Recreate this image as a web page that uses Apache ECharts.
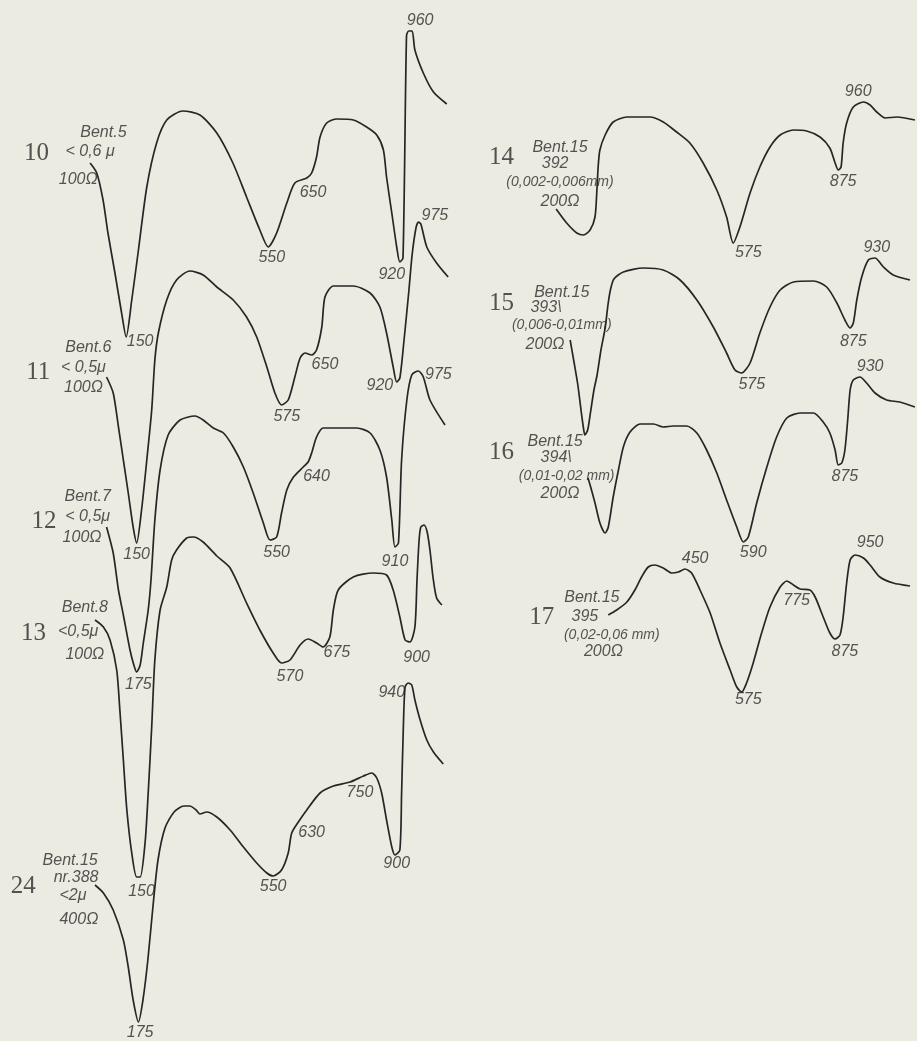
<!DOCTYPE html>
<html>
<head>
<meta charset="utf-8">
<script src="https://cdn.jsdelivr.net/npm/echarts@6/dist/echarts.min.js"></script>
<style>
html,body{margin:0;padding:0;background:#ecebe1;}
#c{width:917px;height:1041px;}
</style>
</head>
<body>
<div id="c"></div>
<script>
// DTA curves: [temperature °C, deflection (arbitrary units, curves offset)]
const curve10 = [[46,87.8],[65,86.8],[83,84.1],[97,80.8],[117,76.8],[136,72.8],[149,70.4],[165,74.1],[183,78.8],[208,85.4],[236,89.8],[265,92.1],[311,93.0],[360,92.6],[408,90.8],[454,87.8],[493,84.4],[531,81.1],[555,79.4],[579,80.8],[608,83.8],[631,85.8],[665,86.3],[679,86.8],[693,88.4],[703,90.4],[722,91.8],[751,92.2],[798,92.1],[836,91.4],[865,90.6],[884,89.1],[893,86.4],[908,82.8],[922,79.4],[931,77.9],[940,78.3],[950,100.5],[956,101.0],[966,101.0],[974,99.1],[998,96.8],[1027,94.9],[1065,93.7]];
const curve11 = [[93,66.4],[112,64.8],[127,61.4],[141,58.1],[155,54.8],[169,51.4],[179,49.8],[193,53.1],[208,58.1],[222,63.1],[231,68.1],[241,70.8],[265,74.1],[293,76.1],[331,77.0],[369,76.6],[408,75.4],[455,74.1],[493,72.4],[522,70.4],[551,67.4],[574,64.8],[593,63.6],[612,64.1],[631,66.4],[646,68.3],[660,68.8],[679,68.6],[693,69.1],[708,71.4],[717,74.4],[741,75.5],[798,75.5],[846,74.8],[874,73.4],[893,70.8],[912,67.4],[922,65.9],[931,66.3],[943,70.1],[957,75.1],[966,78.6],[977,81.3],[984,81.9],[991,81.7],[1008,79.4],[1036,77.8],[1069,76.4]];
const curve12 = [[93,51.4],[112,48.8],[127,45.1],[141,42.6],[160,39.1],[171,37.6],[179,36.9],[189,37.6],[198,39.8],[212,43.1],[220,46.1],[231,52.1],[246,57.1],[269,60.6],[303,62.1],[346,62.5],[369,62.1],[398,61.3],[427,60.8],[455,59.4],[484,57.4],[512,54.8],[541,51.8],[560,50.1],[579,50.4],[593,52.8],[608,55.1],[627,56.4],[655,57.4],[669,57.9],[679,58.8],[693,60.4],[712,61.3],[760,61.3],[808,61.3],[846,60.8],[874,59.1],[893,56.4],[908,52.1],[917,49.4],[927,49.8],[936,58.1],[951,64.1],[965,66.6],[984,67.0],[998,66.4],[1017,64.1],[1060,61.6]];
const curve13 = [[60,42.1],[84,41.4],[103,40.1],[122,37.1],[131,33.1],[141,28.1],[151,23.1],[165,18.8],[179,16.4],[189,16.4],[203,19.8],[212,24.8],[222,31.4],[231,38.1],[246,43.1],[265,45.4],[279,48.1],[293,49.1],[322,50.3],[341,50.4],[369,49.9],[408,48.5],[446,47.3],[493,43.8],[531,41.1],[569,38.8],[593,37.8],[617,38.1],[646,39.6],[669,40.2],[693,39.8],[712,39.4],[731,40.4],[741,43.1],[755,45.1],[798,46.4],[855,46.8],[893,46.6],[912,45.1],[931,42.4],[946,40.1],[960,39.9],[974,41.4],[980,46.1],[986,50.1],[991,51.4],[1000,51.6],[1009,50.9],[1017,49.1],[1026,46.3],[1036,44.3],[1051,43.6]];
const curve24 = [[60,15.6],[84,14.8],[112,13.1],[141,10.1],[155,7.4],[169,4.1],[184,1.9],[197,4.1],[211,8.1],[226,13.6],[240,18.1],[260,21.3],[286,22.9],[314,23.5],[331,23.5],[349,23.1],[360,22.7],[379,22.9],[408,22.4],[446,21.1],[484,19.4],[522,17.8],[551,16.8],[569,16.5],[593,17.1],[612,18.8],[622,20.8],[641,21.9],[665,23.1],[703,24.8],[741,25.5],[789,25.9],[827,26.5],[851,26.8],[865,26.3],[879,24.8],[893,22.1],[908,19.4],[917,18.6],[931,19.1],[936,24.8],[941,31.4],[946,35.4],[955,35.8],[965,35.6],[974,34.1],[989,32.1],[1008,30.1],[1027,28.9],[1055,27.7]];
const curve14 = [[69,83.2],[99,81.8],[128,80.8],[147,80.6],[166,81.1],[180,82.4],[185,84.8],[189,87.4],[194,89.1],[209,90.6],[232,91.9],[271,92.4],[337,92.4],[375,91.9],[413,90.9],[451,89.8],[489,87.8],[528,85.1],[556,82.4],[575,79.8],[594,81.4],[623,84.8],[651,87.4],[680,89.4],[709,90.6],[747,91.1],[785,91.0],[823,90.4],[851,89.3],[866,87.8],[875,87.1],[883,87.4],[889,89.8],[899,91.8],[918,93.4],[947,93.9],[966,93.6],[985,92.9],[1009,92.3],[1042,92.4],[1094,92.1]];
const curve15 = [[109,70.1],[120,67.9],[131,65.6],[140,63.1],[147,61.3],[151,60.6],[159,61.1],[166,62.6],[177,65.1],[186,66.6],[197,69.1],[209,71.3],[217,73.6],[224,75.1],[234,76.2],[261,76.9],[318,77.3],[375,77.1],[423,76.1],[471,74.1],[518,71.4],[556,68.8],[580,67.1],[599,66.8],[623,67.8],[651,70.8],[680,73.4],[709,75.1],[747,75.9],[804,76.0],[842,75.4],[871,73.8],[894,72.1],[909,71.3],[918,71.8],[928,74.1],[942,76.4],[961,78.1],[980,78.3],[1004,77.4],[1032,76.6],[1080,76.1]];
const curve16 = [[160,56.3],[166,55.6],[180,53.8],[194,51.8],[209,50.8],[218,51.4],[232,54.4],[247,57.1],[261,59.4],[280,60.9],[309,61.7],[347,61.7],[375,61.4],[404,61.5],[442,61.5],[471,60.8],[499,59.1],[528,56.8],[556,54.1],[585,51.4],[604,49.9],[618,50.4],[642,53.8],[671,57.4],[699,60.4],[728,62.3],[766,62.8],[804,62.8],[832,61.9],[851,60.8],[866,59.1],[875,57.6],[885,57.8],[894,59.1],[902,62.1],[909,65.1],[918,66.1],[937,66.4],[956,65.8],[980,64.8],[1013,64.1],[1051,63.9],[1094,63.4]];
const curve17 = [[218,42.6],[242,43.1],[271,43.9],[294,45.1],[313,46.4],[332,47.4],[351,47.6],[375,47.3],[399,46.8],[418,46.9],[437,47.2],[456,46.8],[480,45.1],[509,42.8],[537,39.8],[566,37.1],[585,35.4],[599,34.9],[613,35.8],[632,37.8],[656,40.8],[680,43.4],[709,45.4],[728,46.0],[747,45.6],[766,45.2],[794,45.1],[809,44.4],[832,42.4],[851,40.8],[866,40.2],[880,40.6],[889,42.4],[899,45.8],[909,48.1],[923,48.6],[947,48.3],[966,47.6],[994,46.4],[1032,45.8],[1080,45.5]];

// Peak / dip temperature labels: [temperature, deflection, text]
const leftPeakLabels = [
  [189,69.9,'150'],[565,78.3,'550'],[683,84.8,'650'],[908,76.6,'920'],[989,102.0,'960'],
  [179,48.6,'150'],[608,62.4,'575'],[717,67.6,'650'],[874,65.5,'920'],[1031,82.5,'975'],
  [184,35.6,'175'],[579,48.8,'550'],[693,56.4,'640'],[917,47.9,'910'],[1041,66.6,'975'],
  [193,14.9,'150'],[617,36.4,'570'],[751,38.8,'675'],[979,38.3,'900'],
  [189,0.8,'175'],[569,15.4,'550'],[679,20.8,'630'],[817,24.8,'750'],[922,17.7,'900'],[908,34.8,'940']
];
const rightPeakLabels = [
  [618,78.8,'575'],[889,85.9,'875'],[932,94.9,'960'],
  [628,65.6,'575'],[918,69.9,'875'],[985,79.3,'930'],
  [632,48.8,'590'],[894,56.4,'875'],[966,67.4,'930'],
  [466,48.2,'450'],[756,44.0,'775'],[894,38.9,'875'],[618,34.1,'575'],[966,49.8,'950']
];
// Sample descriptions
const leftSampleNumbers = [[-107,88.8,'10'],[-102,66.9,'11'],[-86,52.0,'12'],[-116,40.8,'13'],[-145,15.5,'24']];
const leftSampleText = [
  [84,90.8,'Bent.5'],[46,88.9,'< 0,6 μ'],[12,86.1,'100Ω'],
  [41,69.3,'Bent.6'],[27,67.3,'< 0,5μ'],[27,65.3,'100Ω'],
  [39,54.4,'Bent.7'],[39,52.4,'< 0,5μ'],[23,50.3,'100Ω'],
  [31,43.3,'Bent.8'],[12,40.9,'<0,5μ'],[31,38.6,'100Ω'],
  [-11,18.0,'Bent.15'],[6,16.3,'nr.388'],[-3,14.5,'<2μ'],[14,12.1,'400Ω']
];
const rightSampleNumbers = [[-87,88.4,'14'],[-87,73.8,'15'],[-87,58.9,'16'],[28,42.4,'17']];
const rightSampleText = [
  [80,89.3,'Bent.15'],[66,87.7,'392'],[80,83.9,'200Ω'],
  [85,74.8,'Bent.15'],[40,73.3,'393\\'],[37,69.6,'200Ω'],
  [66,59.9,'Bent.15'],[69,58.3,'394\\'],[80,54.7,'200Ω'],
  [171,44.3,'Bent.15'],[151,42.4,'395'],[204,38.9,'200Ω']
];
const rightSampleRanges = [[80,85.9,'(0,002-0,006mm)'],[85,71.6,'(0,006-0,01mm)'],[99,56.5,'(0,01-0,02 mm)'],[228,40.6,'(0,02-0,06 mm)']];

const INK = '#262626';
const TXT = '#2c2c2c';

function curveSeries(data, idx) {
  return {
    type: 'line', data: data, xAxisIndex: idx, yAxisIndex: idx,
    symbol: 'none', smooth: 0.25, clip: false, silent: true,
    lineStyle: { color: INK, width: 1.7 }
  };
}
function textSeries(data, idx, style) {
  return {
    type: 'scatter', data: data, xAxisIndex: idx, yAxisIndex: idx,
    symbolSize: 0, clip: false, silent: true,
    itemStyle: { color: 'rgba(0,0,0,0)' },
    label: Object.assign({
      show: true, position: 'inside', align: 'center', verticalAlign: 'middle',
      formatter: p => p.value[2], color: TXT
    }, style)
  };
}
const italic = { fontFamily: 'Liberation Sans', fontStyle: 'italic', fontSize: 16 };
const italicSmall = { fontFamily: 'Liberation Sans', fontStyle: 'italic', fontSize: 14 };
const serif = { fontFamily: 'Liberation Serif', fontSize: 25, color: '#2a2a2a' };

const chart = echarts.init(document.getElementById('c'), null, { renderer: 'canvas' });
chart.setOption({
  backgroundColor: '#ecebe1',
  animation: false,
  grid: [
    { left: 4, top: 0, width: 455, height: 1041 },
    { left: 462, top: 0, width: 455, height: 1041 }
  ],
  xAxis: [
    { type: 'value', gridIndex: 0, min: -200, max: 1100, show: false },
    { type: 'value', gridIndex: 1, min: -200, max: 1100, show: false }
  ],
  yAxis: [
    { type: 'value', gridIndex: 0, min: 0, max: 104.1, show: false },
    { type: 'value', gridIndex: 1, min: 0, max: 104.1, show: false }
  ],
  series: [
    curveSeries(curve10, 0), curveSeries(curve11, 0), curveSeries(curve12, 0),
    curveSeries(curve13, 0), curveSeries(curve24, 0),
    curveSeries(curve14, 1), curveSeries(curve15, 1), curveSeries(curve16, 1), curveSeries(curve17, 1),
    textSeries(leftPeakLabels, 0, italic),
    textSeries(rightPeakLabels, 1, italic),
    textSeries(leftSampleNumbers, 0, serif),
    textSeries(rightSampleNumbers, 1, serif),
    textSeries(leftSampleText, 0, italic),
    textSeries(rightSampleText, 1, italic),
    textSeries(rightSampleRanges, 1, italicSmall)
  ]
});
</script>
</body>
</html>
